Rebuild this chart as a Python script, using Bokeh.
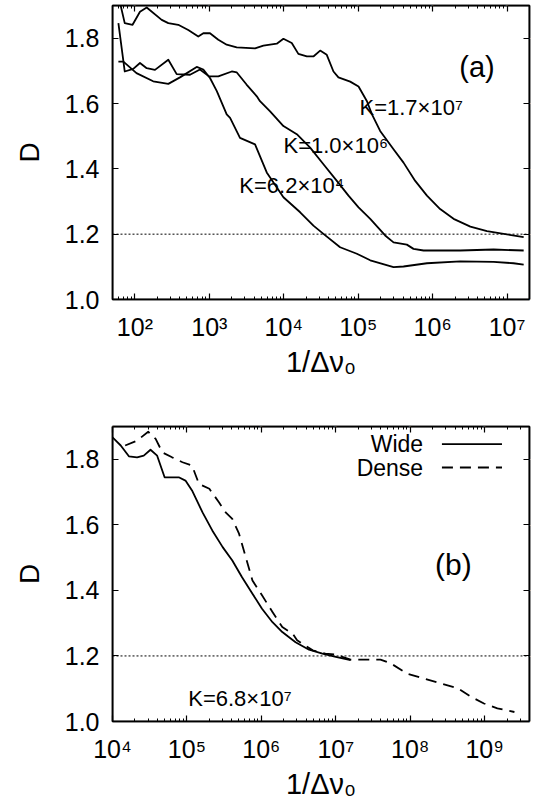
from bokeh.plotting import figure
from bokeh.layouts import column
from bokeh.models import (FixedTicker, LogAxis, LinearAxis, Span, Range1d, LinearScale,
                          BoxAnnotation)
from bokeh.core.properties import value
from bokeh.embed import file_html
from bokeh.resources import INLINE

FONT = "Liberation Sans"

# ---------------- Panel (a) data ----------------
a_k17e7_x = [60, 73, 93, 117, 144, 229, 281, 382, 521, 710, 830, 1020, 1320, 1710, 2330,
             4110, 5320, 8050, 9890, 12800, 15700, 20400, 25000, 30800, 37800, 46500,
             54200, 78000, 1.01e5, 1.31e5, 1.53e5, 1.97e5, 2.98e5, 4.06e5, 5.83e5,
             8.38e5, 1.26e6, 1.91e6, 3.21e6, 5.37e6, 9.0e6, 1.67e7]
a_k17e7_d = [1.93, 1.846, 1.841, 1.881, 1.894, 1.856, 1.846, 1.841, 1.825, 1.805, 1.815,
             1.815, 1.795, 1.780, 1.772, 1.769, 1.777, 1.783, 1.798, 1.785, 1.752, 1.744,
             1.744, 1.762, 1.749, 1.698, 1.680, 1.667, 1.652, 1.607, 1.567, 1.516, 1.460,
             1.419, 1.363, 1.318, 1.277, 1.247, 1.223, 1.209, 1.201, 1.191]

a_k10e6_x = [60, 73, 95, 117, 144, 186, 281, 364, 550, 748, 990, 1320, 2000, 2340, 3160,
             4340, 4790, 6550, 9890, 14960, 22600, 34100, 51600, 74000, 1.01e5, 1.45e5,
             2.3e5, 2.98e5, 4.5e5, 5.53e5, 7.55e5, 2.35e6, 6.59e6, 1.67e7]
a_k10e6_d = [1.846, 1.698, 1.706, 1.724, 1.708, 1.703, 1.734, 1.690, 1.688, 1.704, 1.683,
             1.683, 1.698, 1.695, 1.658, 1.622, 1.607, 1.576, 1.531, 1.506, 1.465, 1.414,
             1.363, 1.318, 1.282, 1.247, 1.196, 1.175, 1.168, 1.155, 1.150, 1.150, 1.153,
             1.150]

a_k62e4_x = [60, 70, 105, 176, 281, 403, 676, 830, 1020, 1260, 1710, 1900, 2580, 4110,
             5900, 9890, 16600, 25000, 34100, 57100, 95900, 1.45e5, 2.98e5, 4.06e5,
             8.38e5, 2.35e6, 6.59e6, 1.22e7, 1.67e7]
a_k62e4_d = [1.728, 1.728, 1.693, 1.668, 1.660, 1.680, 1.712, 1.704, 1.678, 1.638, 1.567,
             1.556, 1.495, 1.475, 1.389, 1.313, 1.267, 1.226, 1.201, 1.160, 1.140, 1.120,
             1.099, 1.101, 1.111, 1.117, 1.115, 1.111, 1.107]

a_labels = ["K=1.7×10⁷", "K=1.0×10⁶", "K=6.2×10⁴"]
a_label_x = [1.04e5, 9.9e3, 2.53e3]
a_label_y = [1.589, 1.470, 1.350]

# ---------------- Panel (b) data ----------------
b_wide_x = [1.0e4, 1.29e4, 1.66e4, 2.14e4, 2.63e4, 3.24e4, 3.98e4, 5.01e4, 7.76e4, 9.55e4,
            1.17e5, 1.62e5, 2.19e5, 3.02e5, 4.07e5, 5.5e5, 7.59e5, 1.02e6, 1.41e6, 1.91e6,
            2.88e6, 4.37e6, 6.61e6, 1.0e7, 1.58e7]
b_wide_d = [1.867, 1.842, 1.809, 1.806, 1.811, 1.829, 1.811, 1.745, 1.745, 1.735, 1.705,
            1.638, 1.583, 1.532, 1.491, 1.440, 1.390, 1.344, 1.303, 1.273, 1.242, 1.219,
            1.207, 1.197, 1.187]

b_dense_x = [1.48e4, 2.14e4, 3.02e4, 3.8e4, 4.68e4, 6.31e4, 8.71e4, 1.17e5, 1.45e5, 2.0e5,
             2.69e5, 3.31e5, 4.07e5, 5.01e5, 6.17e5, 7.59e5, 1.02e6, 1.41e6, 1.91e6,
             2.63e6, 3.02e6, 4.9e6, 7.24e6, 9.55e6, 1.58e7, 2.19e7, 3.98e7, 5.5e7, 9.12e7,
             1.38e8, 2.57e8, 4.37e8, 6.61e8, 9.77e8, 1.48e9, 2.51e9]
b_dense_d = [1.842, 1.857, 1.884, 1.862, 1.821, 1.806, 1.791, 1.781, 1.725, 1.710, 1.669,
             1.638, 1.618, 1.573, 1.501, 1.430, 1.385, 1.334, 1.288, 1.268, 1.248, 1.217,
             1.207, 1.205, 1.189, 1.189, 1.189, 1.177, 1.146, 1.134, 1.116, 1.101, 1.075,
             1.055, 1.040, 1.029]

b_label = ["K=6.8×10⁷"]
b_label_x = [1.04e5]
b_label_y = [1.070]

series_names = ["Wide", "Dense"]
series_dashes = ["solid", "11 7"]

# ---------------- axes ----------------
y_ticks = [1.0, 1.2, 1.4, 1.6, 1.8]
y_tick_labels = ["1.0", "1.2", "1.4", "1.6", "1.8"]
threshold = 1.2

a_xticks = [1e2, 1e3, 1e4, 1e5, 1e6, 1e7]
a_xtick_labels = ["10²", "10³", "10⁴", "10⁵", "10⁶", "10⁷"]
a_xrange = (50, 2e7)

b_xticks = [1e4, 1e5, 1e6, 1e7, 1e8, 1e9]
b_xtick_labels = ["10⁴", "10⁵", "10⁶", "10⁷", "10⁸", "10⁹"]
b_xrange = (1e4, 4e9)

x_title = "1/Δν₀"
y_title = "D"


def minor_ticks(lo, hi):
    out = []
    for e in range(0, 11):
        for k in range(2, 10):
            v = k * 10.0 ** e
            if lo <= v <= hi:
                out.append(v)
    return out


def make_fig(xr, xticks, xlabels, height, top, bottom):
    p = figure(width=536, height=height, x_axis_type="log",
               x_range=xr, y_range=(1.0, 1.9),
               output_backend="svg", toolbar_location=None,
               min_border_left=112, min_border_right=7,
               min_border_top=top, min_border_bottom=bottom)
    p.grid.visible = False
    p.outline_line_color = "black"
    p.outline_line_width = 1.5
    p.background_fill_color = "white"
    p.border_fill_color = "white"

    xt = FixedTicker(ticks=xticks, minor_ticks=minor_ticks(xr[0], xr[1]))
    yt = FixedTicker(ticks=y_ticks)

    xa = p.xaxis[0]
    xa.ticker = xt
    xa.major_label_overrides = dict(zip(xticks, xlabels))
    ya = p.yaxis[0]
    ya.ticker = yt
    ya.major_label_overrides = dict(zip(y_ticks, y_tick_labels))
    for ax in (xa, ya):
        ax.axis_line_color = "black"
        ax.axis_line_width = 1.5
        ax.major_tick_in = 6
        ax.major_tick_out = 0
        ax.minor_tick_in = 3
        ax.minor_tick_out = 0
        ax.major_tick_line_width = 1.2
        ax.minor_tick_line_width = 1.0
        ax.major_label_text_font = FONT
        ax.major_label_text_font_size = "25px"
        ax.major_label_text_color = "black"
        ax.axis_label_text_font = FONT
        ax.axis_label_text_font_style = "normal"
        ax.axis_label_text_color = "black"
        ax.major_label_standoff = 13
    ya.minor_tick_line_color = None
    xa.axis_label = x_title
    xa.axis_label_text_font_size = "29px"
    xa.axis_label_standoff = 2
    ya.axis_label = y_title
    ya.axis_label_text_font_size = "28px"
    ya.axis_label_standoff = 17

    # mirrored tick marks on the top and right edges (no labels)
    top_ax = LogAxis(ticker=xt, major_label_text_font_size="2px",
                     major_label_text_color="white", major_label_standoff=0,
                     major_tick_in=6, major_tick_out=0, minor_tick_in=3, minor_tick_out=0,
                     axis_line_color="black", axis_line_width=1.5,
                     major_tick_line_color="black", minor_tick_line_color="black",
                     major_tick_line_width=1.2)
    p.add_layout(top_ax, "above")
    right_ax = LinearAxis(ticker=yt, major_label_text_font_size="2px",
                          major_label_text_color="white", major_label_standoff=0,
                          major_tick_in=6, major_tick_out=0, minor_tick_line_color=None,
                          axis_line_color="black", axis_line_width=1.5,
                          major_tick_line_color="black", major_tick_line_width=1.2)
    p.add_layout(right_ax, "right")

    # frame box
    p.add_layout(BoxAnnotation(fill_alpha=0, line_color="black", line_width=1.5,
                               line_alpha=1))

    p.add_layout(Span(location=threshold, dimension="width", line_color="black",
                      line_width=1, line_dash="2 2"))
    return p


# ---------------- Figure (a) ----------------
pa = make_fig(a_xrange, a_xticks, a_xtick_labels, 400, 4, 101)
for xs, ds in ((a_k17e7_x, a_k17e7_d), (a_k10e6_x, a_k10e6_d), (a_k62e4_x, a_k62e4_d)):
    pa.line(xs, ds, line_color="black", line_width=1.8, line_join="round")
pa.text(x=a_label_x, y=a_label_y, text=a_labels, text_font=value(FONT),
        text_font_size=value("22px"), text_align="left", text_baseline="alphabetic",
        text_color="black")
pa.text(x=[3.94e6], y=[1.711], text=["(a)"], text_font=value(FONT),
        text_font_size=value("29px"), text_align="center", text_baseline="alphabetic",
        text_color="black")

# ---------------- Figure (b) ----------------
pb = make_fig(b_xrange, b_xticks, b_xtick_labels, 402, 26, 80)
pb.line(b_wide_x, b_wide_d, line_color="black", line_width=1.8, line_join="round")
pb.line(b_dense_x, b_dense_d, line_color="black", line_width=1.8,
        line_dash=series_dashes[1], line_join="round")
pb.text(x=b_label_x, y=b_label_y, text=b_label, text_font=value(FONT),
        text_font_size=value("22px"), text_align="left", text_baseline="alphabetic",
        text_color="black")
pb.text(x=[3.8e8], y=[1.48], text=["(b)"], text_font=value(FONT),
        text_font_size=value("30px"), text_align="center", text_baseline="alphabetic",
        text_color="black")

# key in gnuplot style (label left, line sample right), placed in frame fractions
pb.extra_x_ranges = {"fx": Range1d(0, 1)}
pb.extra_x_scales = {"fx": LinearScale()}
pb.extra_y_ranges = {"fy": Range1d(0, 1)}
key_y = [0.940, 0.861]
for name, dash, ky in zip(series_names, series_dashes, key_y):
    pb.line([0.790, 0.934], [ky, ky], x_range_name="fx", y_range_name="fy",
            line_color="black", line_width=1.8, line_dash=dash)
pb.text(x=[0.745, 0.745], y=key_y, text=series_names, x_range_name="fx", y_range_name="fy",
        text_font=value(FONT), text_font_size=value("23px"), text_align="right",
        text_baseline="middle", text_color="black")

layout = column(pa, pb, spacing=0)
html = file_html(layout, INLINE)
html = html.replace("<head>", "<head><style>html,body{margin:0;padding:0;overflow:hidden;}</style>", 1)
open("out.html", "w").write(html)
